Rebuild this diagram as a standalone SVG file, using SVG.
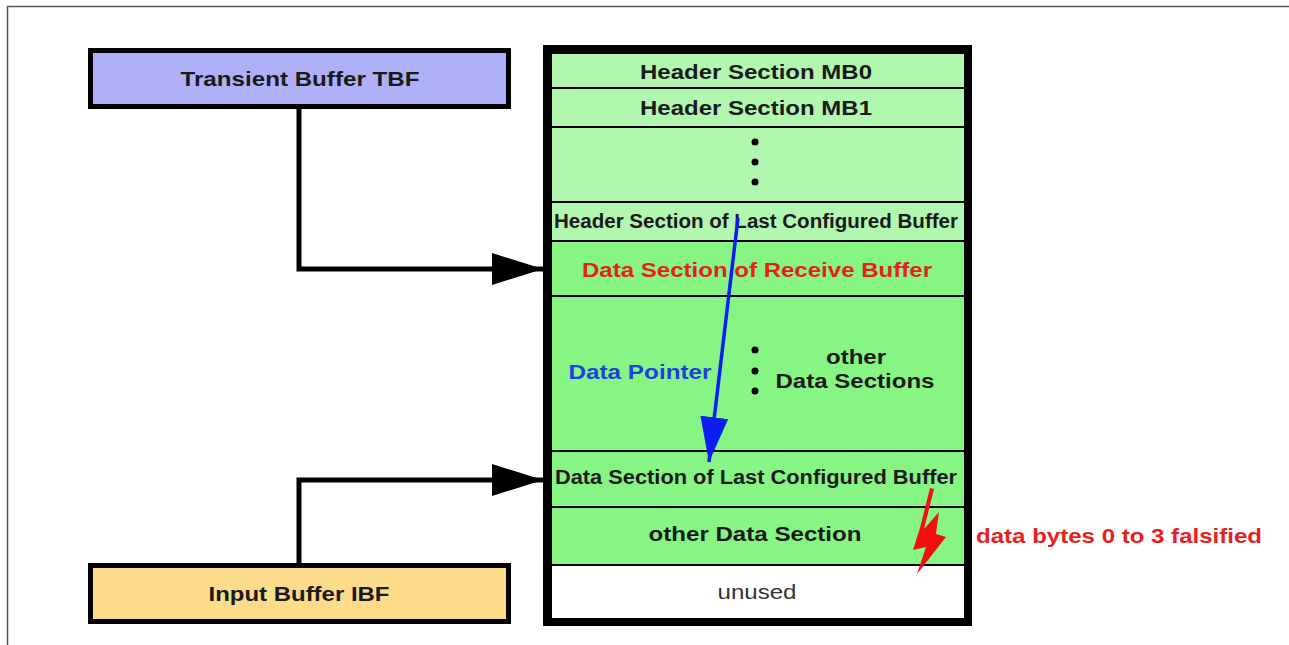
<svg xmlns="http://www.w3.org/2000/svg" width="1289" height="645" viewBox="0 0 1289 645">
<defs>
<style>
text{font-family:"Liberation Sans",Arial,sans-serif;font-weight:bold;text-anchor:middle;dominant-baseline:central;font-size:21px}
.blk{fill:#1a1a1a}
.red{fill:#e5211f}
.blue{fill:#1f3fe0}
.hdr{fill:#b2f7b0;stroke:#000;stroke-width:2}
.dat{fill:#86f584;stroke:#000;stroke-width:2}
.conn{fill:none;stroke:#000;stroke-width:5}
</style>
<marker id="ah" markerUnits="userSpaceOnUse" markerWidth="52" markerHeight="34" refX="51" refY="16" orient="auto"><path d="M0,0 L51,16 L0,32 Z" fill="#000"/></marker>
<marker id="bh" markerUnits="userSpaceOnUse" markerWidth="46" markerHeight="30" refX="45" refY="14" orient="auto"><path d="M0,0 L45,14 L0,28 Z" fill="#0a1ef0"/></marker>
</defs>
<rect width="1289" height="645" fill="#fff"/>
<path d="M7.5,645 V6.5 H1289" fill="none" stroke="#555" stroke-width="1.5"/>

<g id="tbf">
<rect x="90.5" y="50.5" width="418" height="56" fill="#b0b0f8" stroke="#000" stroke-width="5"/>
<text class="blk" x="300" y="78" textLength="239" lengthAdjust="spacingAndGlyphs">Transient Buffer TBF</text>
</g>
<g id="ibf">
<rect x="90.5" y="565.5" width="418" height="56" fill="#fcdb8b" stroke="#000" stroke-width="5"/>
<text class="blk" x="299" y="593" textLength="181" lengthAdjust="spacingAndGlyphs">Input Buffer IBF</text>
</g>

<g id="buffer">
<rect x="547" y="49" width="421" height="573" fill="#fff" stroke="#000" stroke-width="8"/>
<rect class="hdr" x="551" y="53" width="414" height="35"/>
<text class="blk" x="756" y="71" textLength="232" lengthAdjust="spacingAndGlyphs">Header Section MB0</text>
<rect class="hdr" x="551" y="88" width="414" height="39"/>
<text class="blk" x="756" y="107" textLength="232" lengthAdjust="spacingAndGlyphs">Header Section MB1</text>
<rect class="hdr" x="551" y="127" width="414" height="75"/>
<circle cx="755" cy="142" r="3.5" fill="#000"/>
<circle cx="755" cy="162" r="3.5" fill="#000"/>
<circle cx="755" cy="182" r="3.5" fill="#000"/>
<rect class="hdr" x="551" y="202" width="414" height="39"/>
<text class="blk" x="756" y="221" style="font-size:20px" textLength="404" lengthAdjust="spacingAndGlyphs">Header Section of Last Configured Buffer</text>
<rect class="dat" x="551" y="241" width="414" height="55"/>
<text class="red" x="757" y="269" textLength="350" lengthAdjust="spacingAndGlyphs">Data Section of Receive Buffer</text>
<rect class="dat" x="551" y="296" width="414" height="155"/>
<text class="blue" x="640" y="371" textLength="143" lengthAdjust="spacingAndGlyphs">Data Pointer</text>
<circle cx="755" cy="350" r="3.5" fill="#000"/>
<circle cx="755" cy="371" r="3.5" fill="#000"/>
<circle cx="755" cy="391" r="3.5" fill="#000"/>
<text class="blk" x="856" y="356" textLength="60" lengthAdjust="spacingAndGlyphs">other</text>
<text class="blk" x="855" y="380" textLength="159" lengthAdjust="spacingAndGlyphs">Data Sections</text>
<rect class="dat" x="551" y="451" width="414" height="56"/>
<text class="blk" x="756" y="477" style="font-size:20px" textLength="402" lengthAdjust="spacingAndGlyphs">Data Section of Last Configured Buffer</text>
<rect class="dat" x="551" y="507" width="414" height="58"/>
<text class="blk" x="755" y="533" textLength="213" lengthAdjust="spacingAndGlyphs">other Data Section</text>
<rect x="551" y="565" width="414" height="54" fill="#fff" stroke="#000" stroke-width="2"/>
<text x="757" y="591" style="font-weight:normal;fill:#333" textLength="79" lengthAdjust="spacingAndGlyphs">unused</text>
</g>

<g id="note">
<text class="red" x="1119" y="535" textLength="286" lengthAdjust="spacingAndGlyphs">data bytes 0 to 3 falsified</text>
<path d="M930,488 L934,489 L924,529 L939,512 L936,534 L946,537 L917,574 L926,547 L913,550 L920,528 Z" fill="#f01010"/>
</g>

<g id="connectors">
<path class="conn" d="M299,109 V269 H543" marker-end="url(#ah)"/>
<path class="conn" d="M299,563 V480 H543" marker-end="url(#ah)"/>
<path d="M738,218 L709,462" fill="none" stroke="#0a1ef0" stroke-width="3.5" marker-end="url(#bh)"/>
</g>
</svg>
